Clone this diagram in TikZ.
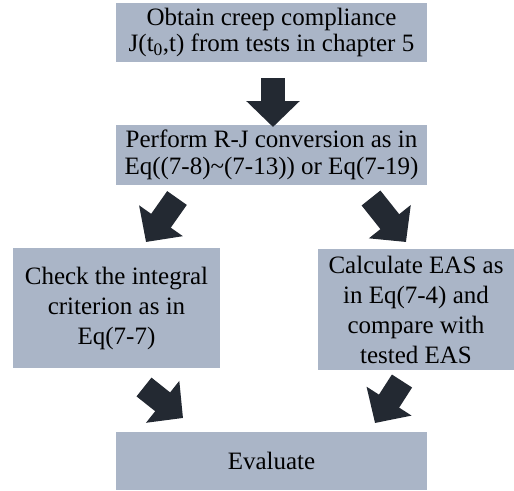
\documentclass[tikz,border=0pt]{standalone}
\usepackage{fontspec}
\setmainfont{Liberation Serif}
\usetikzlibrary{positioning,arrows.meta}
\definecolor{boxfill}{HTML}{AAB5C7}
\definecolor{arrowdark}{HTML}{232932}

\begin{document}
\begin{tikzpicture}[
  x=1pt, y=1pt,
  font=\fontsize{25}{26.5}\selectfont,
  box/.style={fill=boxfill, draw=none, text=black, align=center, inner sep=0pt, outer sep=0pt},
  widebox/.style={box, minimum width=311pt, minimum height=60pt},
  tallbox/.style={box, minimum height=121pt, font=\fontsize{25}{30}\selectfont},
  bigarr/.style={-{Triangle[width=52pt, length=26pt]}, line width=24pt, draw=arrowdark},
]
\useasboundingbox (0,0) rectangle (514,-490);
\node[widebox, minimum height=59pt] (obtain) at (271.5,-32.5) {Obtain creep compliance\\J(t\textsubscript{0},t) from tests in chapter 5};
\node[widebox, below=63pt of obtain] (conv) {Perform R-J conversion as in\\Eq((7-8)\textasciitilde(7-13)) or Eq(7-19)};
\node[tallbox, minimum width=207pt, minimum height=120pt] (check) at (116.5,-308) {Check the integral\\criterion as in\\Eq(7-7)};
\node[tallbox, minimum width=196pt] (calc) at (416,-309.5) {Calculate EAS as\\in Eq(7-4) and\\compare with\\tested EAS};
\node[widebox, minimum height=58pt] (eval) at (271.5,-461) {Evaluate};
\draw[bigarr] ([xshift=1.5pt, yshift=-16pt]obtain.south) -- ([xshift=1.5pt, yshift=-2pt]conv.north);
\draw[bigarr] ([xshift=-94.5pt, yshift=-13pt]conv.south) -- ([xshift=29.5pt, yshift=6pt]check.north);
\draw[bigarr] ([xshift=99.5pt, yshift=-13pt]conv.south) -- ([xshift=-10pt, yshift=7pt]calc.north);
\draw[bigarr] ([xshift=27.5pt, yshift=-19pt]check.south) -- ([xshift=-88.5pt, yshift=14pt]eval.north);
\draw[bigarr] ([xshift=-14pt, yshift=-11pt]calc.south) -- ([xshift=103.5pt, yshift=9pt]eval.north);
\end{tikzpicture}
\end{document}
